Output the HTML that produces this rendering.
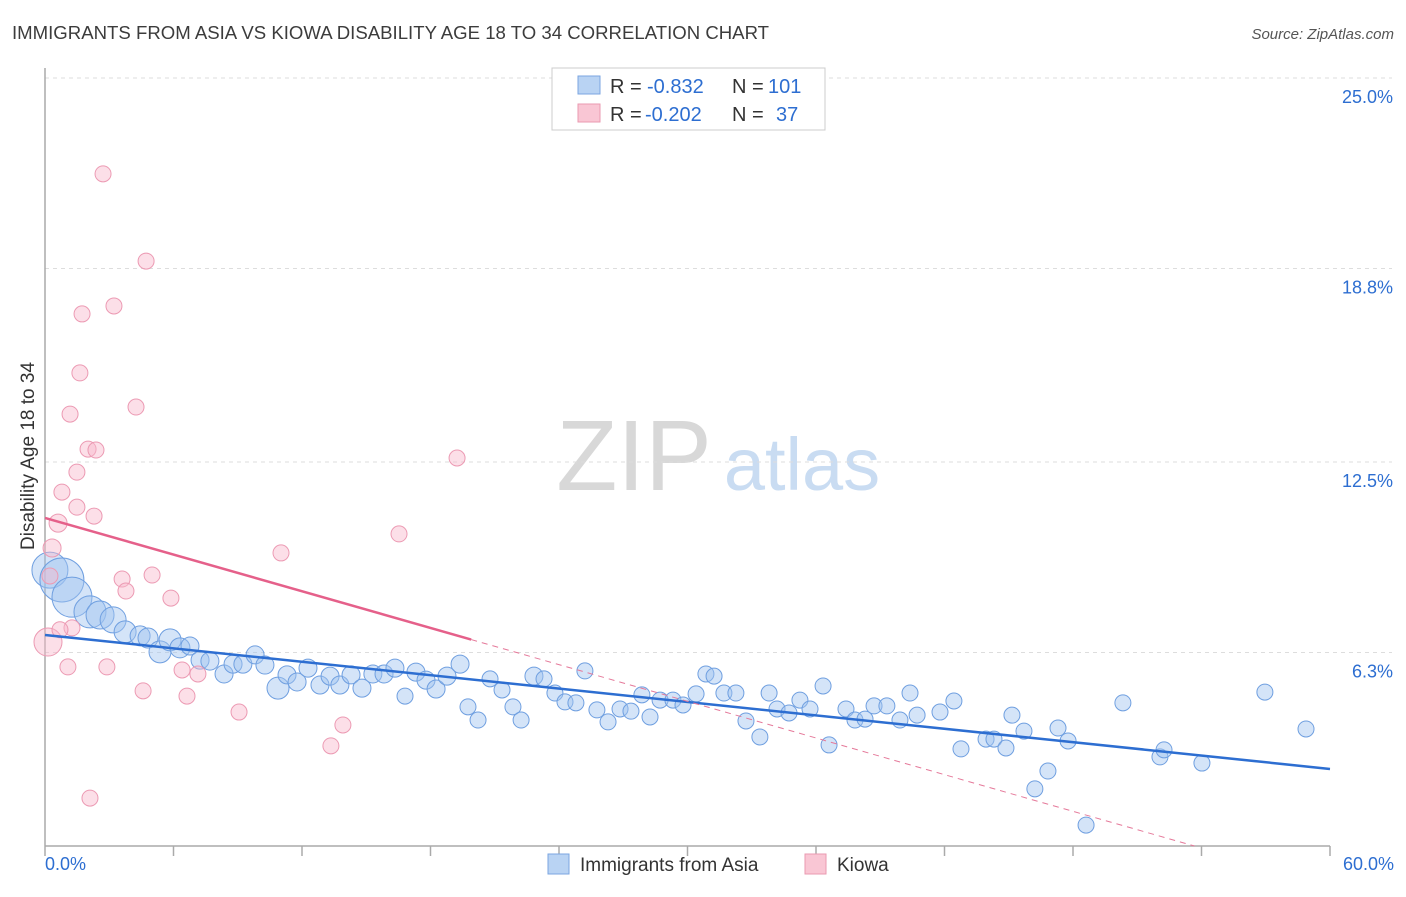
<!DOCTYPE html>
<html><head><meta charset="utf-8"><style>
body{margin:0;background:#fff;font-family:"Liberation Sans",sans-serif}
svg text{font-family:"Liberation Sans",sans-serif}
</style></head><body>
<svg id="chart" width="1406" height="892" viewBox="0 0 1406 892">
<text x="12" y="39" font-size="18.6" fill="#3c3c3c">IMMIGRANTS FROM ASIA VS KIOWA DISABILITY AGE 18 TO 34 CORRELATION CHART</text>
<text x="1394" y="39" font-size="15" fill="#555" text-anchor="end" font-style="italic">Source: ZipAtlas.com</text>
<g>
<text x="634" y="490" font-size="100" fill="#d8d8d8" font-family="Liberation Serif" text-anchor="middle">ZIP</text>
<text x="802" y="490" font-size="74" fill="#c9dcf2" text-anchor="middle">atlas</text>
</g>
<g id="grid"></g>
<g id="axes"></g>
<g id="marks"></g>
<text transform="translate(34,456) rotate(-90)" font-size="19" fill="#333" text-anchor="middle">Disability Age 18 to 34</text>
<g>
<rect x="552" y="68" width="273" height="62" fill="#fff" stroke="#ccc"/>
<rect x="578" y="76" width="22" height="18" fill="#b9d3f3" stroke="#7ba6e0"/>
<rect x="578" y="104" width="22" height="18" fill="#f9c6d4" stroke="#ea9ab0"/>
<text x="610" y="93" font-size="20" fill="#333">R =</text>
<text x="647" y="93" font-size="20" fill="#2d6ed1">-0.832</text>
<text x="732" y="93" font-size="20" fill="#333">N =</text>
<text x="768" y="93" font-size="20" fill="#2d6ed1">101</text>
<text x="610" y="121" font-size="20" fill="#333">R =</text>
<text x="645" y="121" font-size="20" fill="#2d6ed1">-0.202</text>
<text x="732" y="121" font-size="20" fill="#333">N =</text>
<text x="776" y="121" font-size="20" fill="#2d6ed1">37</text>
</g>
<g>
<rect x="548" y="854" width="21" height="20" fill="#b9d3f3" stroke="#7ba6e0"/>
<text x="580" y="871" font-size="19" fill="#333">Immigrants from Asia</text>
<rect x="805" y="854" width="21" height="20" fill="#f9c6d4" stroke="#ea9ab0"/>
<text x="837" y="871" font-size="19" fill="#333">Kiowa</text>
</g>
</svg>
<script>
const yTicks=[25.0,18.8,12.5,6.3];
const yTickLabels=["25.0%","18.8%","12.5%","6.3%"];
const xTickCount=10;
const xMin=0,xMax=60,yMin=0,yMax=25;
const asiaX=[0.23,0.79,1.26,2.10,2.57,3.18,3.74,4.44,4.81,5.37,5.84,6.30,6.77,7.24,7.70,8.36,8.78,9.24,9.81,10.27,10.88,11.30,11.77,12.28,12.84,13.31,13.77,14.29,14.80,15.31,15.83,16.34,16.81,17.32,17.79,18.26,18.77,19.38,19.75,20.22,20.78,21.34,21.85,22.23,22.83,23.30,23.81,24.28,24.79,25.21,25.77,26.29,26.85,27.36,27.87,28.25,28.72,29.32,29.79,30.40,30.86,31.24,31.70,32.26,32.73,33.38,33.81,34.18,34.74,35.25,35.72,36.33,36.61,37.40,37.82,38.29,38.71,39.31,39.92,40.39,40.72,41.79,42.44,42.77,43.94,44.31,44.87,45.15,45.71,46.22,46.83,47.30,47.77,48.61,50.33,52.06,52.25,54.02,56.96,58.88];
const asiaY=[8.98,8.66,8.10,7.62,7.52,7.36,6.97,6.84,6.77,6.32,6.71,6.45,6.51,6.05,6.02,5.60,5.92,5.92,6.22,5.89,5.14,5.57,5.34,5.79,5.24,5.53,5.24,5.57,5.14,5.60,5.60,5.79,4.88,5.66,5.40,5.11,5.53,5.92,4.53,4.10,5.44,5.08,4.53,4.10,5.53,5.44,4.98,4.69,4.66,5.70,4.43,4.04,4.46,4.39,4.92,4.20,4.75,4.75,4.59,4.95,5.60,5.53,4.98,4.98,4.07,3.55,4.98,4.46,4.33,4.75,4.46,5.21,3.29,4.46,4.10,4.13,4.56,4.56,4.10,4.98,4.26,4.36,4.72,3.16,3.48,3.48,3.19,4.26,3.74,1.86,2.44,3.84,3.42,0.68,4.66,2.90,3.13,2.70,5.01,3.81];
const asiaSize=[18,22,20,16,14,13,11,10,10,11,11,10,9,9,9,9,9,9,9,9,11,9,9,9,9,9,9,9,9,9,9,9,8,9,9,9,9,9,8,8,8,8,8,8,9,8,8,8,8,8,8,8,8,8,8,8,8,8,8,8,8,8,8,8,8,8,8,8,8,8,8,8,8,8,8,8,8,8,8,8,8,8,8,8,8,8,8,8,8,8,8,8,8,8,8,8,8,8,8,8];
const kiowaX=[0.14,0.33,0.23,0.61,0.79,1.07,1.17,1.26,1.49,1.49,1.63,1.73,2.01,2.10,2.29,2.38,2.71,2.89,3.22,3.60,3.78,4.25,4.58,4.72,5.00,5.88,6.40,6.63,7.14,9.06,11.02,13.35,13.91,16.53,19.24,0.70];
const kiowaY=[6.64,9.70,8.79,10.51,11.52,5.83,14.06,7.10,12.17,11.03,15.40,17.32,12.92,1.56,10.74,12.89,21.88,5.83,17.58,8.69,8.30,14.29,5.05,19.04,8.82,8.07,5.73,4.88,5.60,4.36,9.54,3.26,3.94,10.16,12.63,7.04];
const kiowaSize=[14,9,8,9,8,8,8,8,8,8,8,8,8,8,8,8,8,8,8,8,8,8,8,8,8,8,8,8,8,8,8,8,8,8,8,8];
const asiaTrend=[6.87,-0.0727];
const kiowaTrend=[10.68,-0.199];
const kiowaSolidEnd=19.9;

const L=45,R=1330,T=78,B=846;
const sx=v=>L+(v-xMin)/(xMax-xMin)*(R-L);
const sy=v=>B-(v-yMin)/(yMax-yMin)*(B-T);
const NS="http://www.w3.org/2000/svg";
function mk(tag,parent,attrs){const e=document.createElementNS(NS,tag);for(const k in attrs)e.setAttribute(k,attrs[k]);parent.appendChild(e);return e;}
const grid=document.getElementById('grid'),axes=document.getElementById('axes'),marks=document.getElementById('marks');
yTicks.forEach((t,i)=>{
 const g=mk('line',grid,{x1:L,x2:1392,y1:sy(t),y2:sy(t),stroke:'#ddd','stroke-dasharray':'4,4'});
 
 
 const tx=mk('text',grid,{x:1393,y:sy(t)+25,'font-size':18,fill:'#2d6ed1','text-anchor':'end'});
 tx.textContent=yTickLabels[i];
 
 
});
const ya=mk('line',axes,{x1:L,x2:L,y1:68,y2:B,stroke:'#aaa','stroke-width':1.5});


const xa=mk('line',axes,{x1:L,x2:R,y1:B,y2:B,stroke:'#aaa','stroke-width':1.5});


for(let i=0;i<=xTickCount;i++){
 const v=xMin+(xMax-xMin)*i/xTickCount;
 const tk=mk('line',axes,{x1:sx(v),x2:sx(v),y1:B,y2:B+10,stroke:'#aaa','stroke-width':1.5});
 
 
}
const xl0=mk('text',axes,{x:45,y:870,'font-size':18,fill:'#2d6ed1'});xl0.textContent=xMin.toFixed(1)+'%';


const xl1=mk('text',axes,{x:1394,y:870,'font-size':18,fill:'#2d6ed1','text-anchor':'end'});xl1.textContent=xMax.toFixed(1)+'%';



asiaX.forEach((x,i)=>{
 const c=mk('circle',marks,{cx:sx(x),cy:sy(asiaY[i]),r:asiaSize[i],fill:'rgba(160,195,240,0.45)',stroke:'#6f9fe0','stroke-width':1});
 
 
});
kiowaX.forEach((x,i)=>{
 const c=mk('circle',marks,{cx:sx(x),cy:sy(kiowaY[i]),r:kiowaSize[i],fill:'rgba(248,185,205,0.45)',stroke:'#ec9ab3','stroke-width':1});
 
 
});
const at=mk('line',marks,{x1:sx(xMin),y1:sy(asiaTrend[0]+asiaTrend[1]*xMin),x2:sx(xMax),y2:sy(asiaTrend[0]+asiaTrend[1]*xMax),stroke:'#2d6ed1','stroke-width':2.5});


const kEnd=-kiowaTrend[0]/kiowaTrend[1];
const kd=mk('line',marks,{x1:sx(kiowaSolidEnd),y1:sy(kiowaTrend[0]+kiowaTrend[1]*kiowaSolidEnd),x2:sx(kEnd),y2:sy(0),stroke:'#e5799a','stroke-width':1,'stroke-dasharray':'6,5'});


const kt=mk('line',marks,{x1:sx(xMin),y1:sy(kiowaTrend[0]),x2:sx(kiowaSolidEnd),y2:sy(kiowaTrend[0]+kiowaTrend[1]*kiowaSolidEnd),stroke:'#e5608a','stroke-width':2.5});


</script>
</body></html>
